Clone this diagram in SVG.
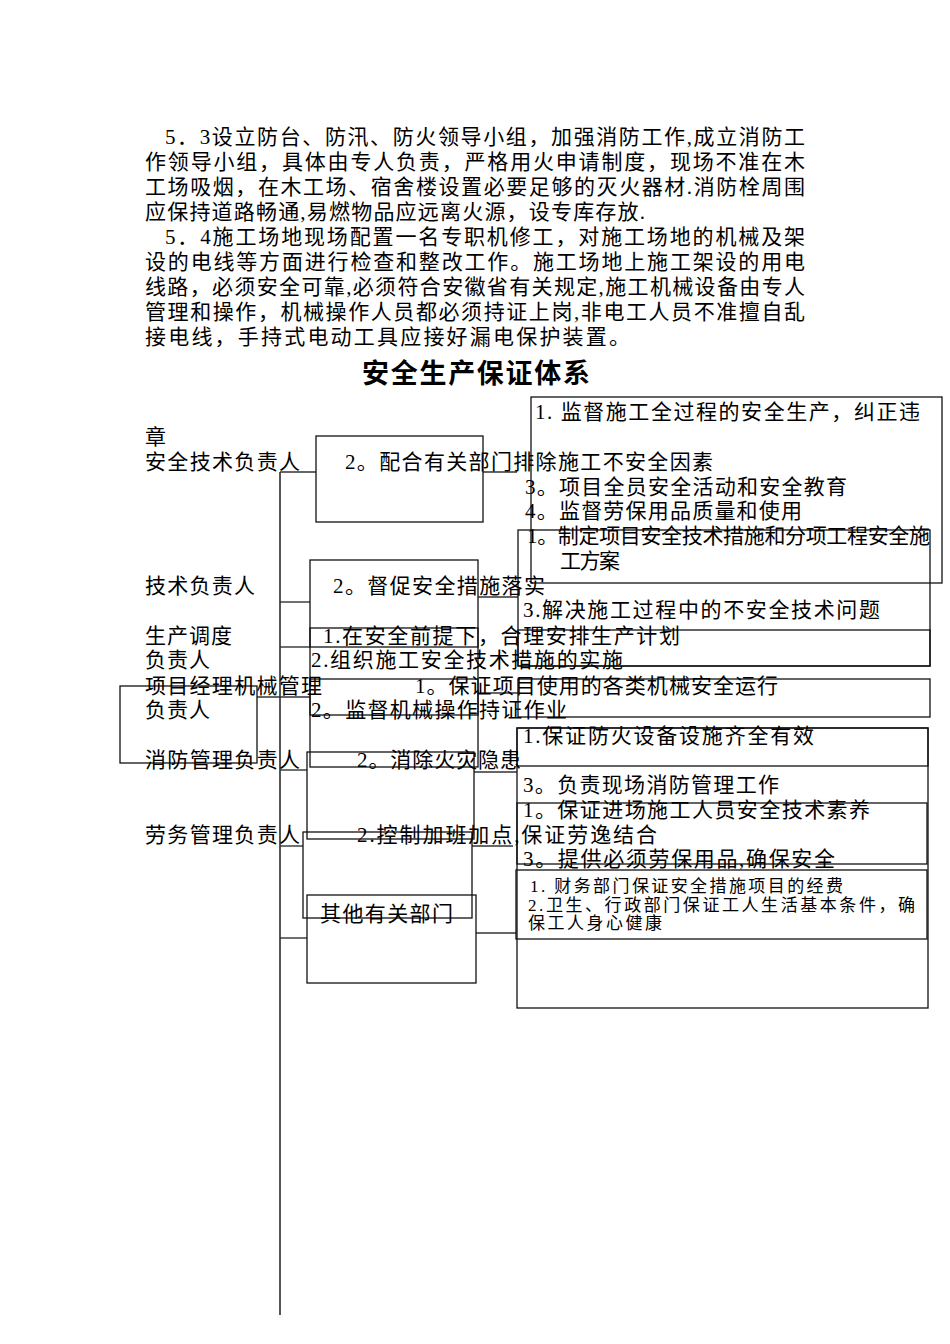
<svg xmlns="http://www.w3.org/2000/svg" width="950" height="1344" viewBox="0 0 950 1344">
<style>
text{font-family:'Liberation Serif','Noto Sans CJK SC',serif;font-size:21px;fill:#000}
.p{font-size:21px}
.sm{font-size:17px}
.title{font-family:'Noto Sans CJK SC',sans-serif;font-size:27px;font-weight:bold}
.box{fill:none;stroke:#111;stroke-width:1.3}
.ln{fill:none;stroke:#333;stroke-width:1.4}
.trunk{fill:none;stroke:#555;stroke-width:2}
</style>
<rect width="950" height="1344" fill="#fff"/>
<g id="paragraph">
<text class="p" x="165" y="144" textLength="640" lengthAdjust="spacing">5．3设立防台、防汛、防火领导小组，加强消防工作,成立消防工</text>
<text class="p" x="145" y="169" textLength="660" lengthAdjust="spacing">作领导小组，具体由专人负责，严格用火申请制度，现场不准在木</text>
<text class="p" x="145" y="194" textLength="660" lengthAdjust="spacing">工场吸烟，在木工场、宿舍楼设置必要足够的灭火器材.消防栓周围</text>
<text class="p" x="145" y="219" textLength="500" lengthAdjust="spacing">应保持道路畅通,易燃物品应远离火源，设专库存放.</text>
<text class="p" x="165" y="244" textLength="640" lengthAdjust="spacing">5．4施工场地现场配置一名专职机修工，对施工场地的机械及架</text>
<text class="p" x="145" y="269" textLength="660" lengthAdjust="spacing">设的电线等方面进行检查和整改工作。施工场地上施工架设的用电</text>
<text class="p" x="145" y="294" textLength="660" lengthAdjust="spacing">线路，必须安全可靠,必须符合安徽省有关规定,施工机械设备由专人</text>
<text class="p" x="145" y="319" textLength="660" lengthAdjust="spacing">管理和操作，机械操作人员都必须持证上岗,非电工人员不准擅自乱</text>
<text class="p" x="145" y="344" textLength="485" lengthAdjust="spacing">接电线，手持式电动工具应接好漏电保护装置。</text>
</g>
<text class="title" x="362" y="383" textLength="228" lengthAdjust="spacing">安全生产保证体系</text>
<g id="connectors">
<line class="trunk" x1="280" y1="472" x2="280" y2="1315"/>
<line class="ln" x1="280" y1="472" x2="316" y2="472"/>
<line class="ln" x1="483" y1="472" x2="517" y2="472"/>
<line class="ln" x1="280" y1="602" x2="310" y2="602"/>
<line class="ln" x1="478" y1="597" x2="518" y2="597"/>
<line class="ln" x1="280" y1="647" x2="310" y2="647"/>
<line class="ln" x1="257" y1="697" x2="310" y2="697"/>
<line class="ln" x1="478" y1="693" x2="518" y2="693"/>
<line class="ln" x1="280" y1="770" x2="307" y2="770"/>
<line class="ln" x1="474" y1="772" x2="517" y2="772"/>
<line class="ln" x1="280" y1="846" x2="303" y2="846"/>
<line class="ln" x1="472" y1="846" x2="513" y2="846"/>
<line class="ln" x1="280" y1="938" x2="307" y2="938"/>
<line class="ln" x1="476" y1="933" x2="516" y2="933"/>
</g>
<g id="node-safety">
<rect class="box" x="316" y="436" width="167" height="86"/>
<rect class="box" x="531" y="397" width="411" height="186"/>
<text x="145" y="469" textLength="155" lengthAdjust="spacing">安全技术负责人</text>
<text x="345" y="469" textLength="368" lengthAdjust="spacing">2。配合有关部门排除施工不安全因素</text>
<text x="535" y="419" textLength="385" lengthAdjust="spacing">1. 监督施工全过程的安全生产，纠正违</text>
<text x="145" y="444">章</text>
<text x="525" y="494" textLength="322" lengthAdjust="spacing">3。项目全员安全活动和安全教育</text>
<text x="525" y="518" textLength="277" lengthAdjust="spacing">4。监督劳保用品质量和使用</text>
</g>
<g id="node-tech">
<rect class="box" x="310" y="560" width="168" height="207"/>
<rect class="box" x="518" y="530" width="412" height="136"/>
<text x="145" y="593" textLength="110" lengthAdjust="spacing">技术负责人</text>
<text x="333" y="593" textLength="212" lengthAdjust="spacing">2。督促安全措施落实</text>
<text x="527" y="543" textLength="403" lengthAdjust="spacing">1。制定项目安全技术措施和分项工程安全施</text>
<text x="560" y="568" textLength="60" lengthAdjust="spacing">工方案</text>
<text x="523" y="617" textLength="357" lengthAdjust="spacing">3.解决施工过程中的不安全技术问题</text>
</g>
<g id="node-production">
<rect class="box" x="310" y="628" width="168" height="19"/>
<rect class="box" x="518" y="630" width="412" height="36"/>
<text x="145" y="643" textLength="87" lengthAdjust="spacing">生产调度</text>
<text x="145" y="667" textLength="65" lengthAdjust="spacing">负责人</text>
<text x="323" y="643" textLength="357" lengthAdjust="spacing">1.在安全前提下，合理安排生产计划</text>
<text x="311" y="667" textLength="312" lengthAdjust="spacing">2.组织施工安全技术措施的实施</text>
</g>
<g id="node-machinery">
<rect class="box" x="120" y="686" width="137" height="77"/>
<rect class="box" x="310" y="679" width="168" height="36"/>
<rect class="box" x="518" y="679" width="412" height="38"/>
<text x="145" y="693" textLength="177" lengthAdjust="spacing">项目经理机械管理</text>
<text x="145" y="717" textLength="65" lengthAdjust="spacing">负责人</text>
<text x="415" y="693" textLength="363" lengthAdjust="spacing">1。保证项目使用的各类机械安全运行</text>
<text x="311" y="717" textLength="256" lengthAdjust="spacing">2。监督机械操作持证作业</text>
</g>
<g id="node-fire">
<rect class="box" x="307" y="752" width="167" height="87"/>
<rect class="box" x="517" y="728" width="411" height="38"/>
<rect class="box" x="517" y="728" width="411" height="280"/>
<text x="145" y="767" textLength="155" lengthAdjust="spacing">消防管理负责人</text>
<text x="357" y="767" textLength="164" lengthAdjust="spacing">2。消除火灾隐患</text>
<text x="523" y="743" textLength="291" lengthAdjust="spacing">1.保证防火设备设施齐全有效</text>
<text x="523" y="792" textLength="256" lengthAdjust="spacing">3。负责现场消防管理工作</text>
</g>
<g id="node-labor">
<rect class="box" x="303" y="832" width="169" height="86"/>
<rect class="box" x="517" y="803" width="410" height="61"/>
<text x="145" y="842" textLength="155" lengthAdjust="spacing">劳务管理负责人</text>
<text x="357" y="842" textLength="300" lengthAdjust="spacing">2.控制加班加点,保证劳逸结合</text>
<text x="523" y="817" textLength="347" lengthAdjust="spacing">1。保证进场施工人员安全技术素养</text>
<text x="523" y="866" textLength="312" lengthAdjust="spacing">3。提供必须劳保用品,确保安全</text>
</g>
<g id="node-other">
<rect class="box" x="307" y="895" width="169" height="88"/>
<rect class="box" x="516" y="870" width="411" height="69"/>
<text x="320" y="921" textLength="133" lengthAdjust="spacing">其他有关部门</text>
<text class="sm" x="530" y="892" textLength="313" lengthAdjust="spacing">1. 财务部门保证安全措施项目的经费</text>
<text class="sm" x="528" y="911" textLength="387" lengthAdjust="spacing">2.卫生、行政部门保证工人生活基本条件，确</text>
<text class="sm" x="528" y="929" textLength="134" lengthAdjust="spacing">保工人身心健康</text>
</g>
</svg>
